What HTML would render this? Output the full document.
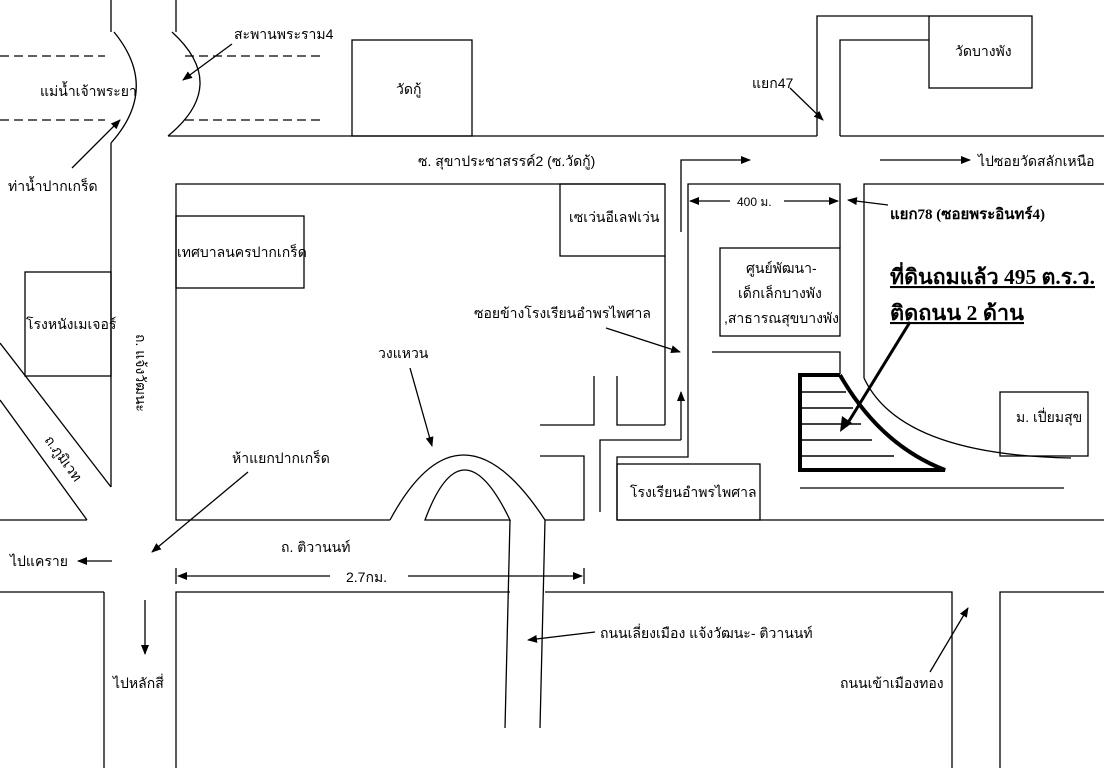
<!DOCTYPE html>
<html><head><meta charset="utf-8"><style>
html,body{margin:0;padding:0;background:#fff;}
svg{display:block;}
text{font-family:"Liberation Sans","DejaVu Sans","Noto Sans CJK SC",sans-serif;font-size:14px;fill:#000;}
.b{font-family:"Liberation Serif","DejaVu Serif",serif;font-weight:bold;}
</style></head><body>
<svg width="1104" height="768" viewBox="0 0 1104 768" xmlns="http://www.w3.org/2000/svg">
<defs><marker id="a" markerWidth="10" markerHeight="8" refX="9" refY="4" orient="auto" markerUnits="userSpaceOnUse"><path d="M0,0 L10,4 L0,8 z" fill="#000"/></marker></defs>
<g stroke="#000" stroke-width="1.3" fill="none">
<line x1="0" y1="56" x2="105" y2="56" stroke-dasharray="9,5"/>
<line x1="185" y1="56" x2="320" y2="56" stroke-dasharray="9,5"/>
<line x1="0" y1="120" x2="105" y2="120" stroke-dasharray="9,5"/>
<line x1="185" y1="120" x2="322" y2="120" stroke-dasharray="9,5"/>
<line x1="111" y1="0" x2="111" y2="32"/>
<line x1="176" y1="0" x2="176" y2="32"/>
<path d="M114,32 Q160,88 111,143"/>
<path d="M172,32 Q230,85 168,136"/>
<line x1="111" y1="143" x2="111" y2="487"/>
<line x1="0" y1="343" x2="111" y2="487"/>
<line x1="0" y1="400" x2="87" y2="520"/>
<line x1="0" y1="520" x2="87" y2="520"/>
<rect x="25" y="272" width="86" height="104"/>
<line x1="168" y1="136" x2="817" y2="136"/>
<rect x="352" y="40" width="120" height="96"/>
<polyline points="817,136 817,16 929,16"/>
<polyline points="840,136 840,40 929,40"/>
<line x1="840" y1="136" x2="1104" y2="136"/>
<rect x="929" y="16" width="103" height="72"/>
<polyline points="665,184 176,184 176,520 390,520"/>
<rect x="176" y="216" width="128" height="72"/>
<rect x="560" y="184" width="105" height="72"/>
<line x1="665" y1="256" x2="665" y2="425"/>
<polyline points="617,376 617,425 665,425"/>
<polyline points="540,425 594,425 594,376"/>
<polyline points="540,456 584,456 584,520 545,520"/>
<path d="M390,520 Q460,390 545,520"/>
<path d="M425,520 Q462,420 510,520 Z"/>
<line x1="510" y1="520" x2="505" y2="728"/>
<line x1="545" y1="520" x2="540" y2="728"/>
<polyline points="600,512 600,440 681,440"/>
<line x1="681" y1="440" x2="681" y2="392" marker-end="url(#a)"/>
<polyline points="681,232 681,160 750,160" marker-end="url(#a)"/>
<polyline points="617,520 617,457 688,457 688,184 840,184 840,248"/>
<rect x="720" y="248" width="120" height="88"/>
<polyline points="712,352 840,352 840,374"/>
<rect x="617" y="464" width="143" height="56"/>
<line x1="617" y1="520" x2="1104" y2="520"/>
<polyline points="864,378 864,184 1104,184"/>
<line x1="730" y1="201" x2="690" y2="201" marker-end="url(#a)"/>
<line x1="784" y1="201" x2="838" y2="201" marker-end="url(#a)"/>
<line x1="888" y1="205" x2="848" y2="200" marker-end="url(#a)"/>
<line x1="880" y1="160" x2="970" y2="160" marker-end="url(#a)"/>
<path d="M864,378 Q900,455 1071,458"/>
<line x1="800" y1="488" x2="1064" y2="488"/>
<rect x="1000" y="392" width="88" height="64"/>
<path d="M840,375 L800,375 L800,470 L945,470 Q880,445 840,375" stroke-width="4"/>
<g stroke-width="1.5"><line x1="800" y1="392" x2="846" y2="392"/><line x1="800" y1="408" x2="853" y2="408"/><line x1="800" y1="424" x2="861" y2="424"/><line x1="800" y1="440" x2="872" y2="440"/><line x1="800" y1="456" x2="894" y2="456"/></g>
<line x1="910" y1="322" x2="846" y2="426" stroke-width="3"/>
<path d="M840,432 L842,416 L852,423 z" fill="#000" stroke="none"/>
<line x1="0" y1="592" x2="104" y2="592"/>
<line x1="104" y1="592" x2="104" y2="768"/>
<polyline points="176,768 176,592 510,592"/>
<polyline points="545,592 952,592 952,768"/>
<polyline points="1000,768 1000,592 1104,592"/>
<line x1="176" y1="568" x2="176" y2="584"/><line x1="584" y1="568" x2="584" y2="584"/>
<line x1="330" y1="576" x2="178" y2="576" marker-end="url(#a)"/>
<line x1="408" y1="576" x2="582" y2="576" marker-end="url(#a)"/>
<line x1="112" y1="561" x2="78" y2="561" marker-end="url(#a)"/>
<line x1="145" y1="600" x2="145" y2="654" marker-end="url(#a)"/>
<line x1="248" y1="472" x2="152" y2="552" marker-end="url(#a)"/>
<line x1="595" y1="632" x2="528" y2="640" marker-end="url(#a)"/>
<line x1="930" y1="672" x2="968" y2="608" marker-end="url(#a)"/>
<line x1="410" y1="368" x2="432" y2="446" marker-end="url(#a)"/>
<line x1="606" y1="328" x2="680" y2="352" marker-end="url(#a)"/>
<line x1="72" y1="168" x2="120" y2="120" marker-end="url(#a)"/>
<line x1="232" y1="44" x2="183" y2="80" marker-end="url(#a)"/>
<line x1="790" y1="88" x2="823" y2="120" marker-end="url(#a)"/>
</g>
<text x="234" y="39">สะพานพระราม4</text>
<text x="40" y="96">แม่น้ำเจ้าพระยา</text>
<text x="396" y="94">วัดกู้</text>
<text x="955" y="56">วัดบางพัง</text>
<text x="752" y="88">แยก47</text>
<text x="8" y="191">ท่าน้ำปากเกร็ด</text>
<text x="418" y="166">ซ. สุขาประชาสรรค์2 (ซ.วัดกู้)</text>
<text x="978" y="166">ไปซอยวัดสลักเหนือ</text>
<text x="569" y="222">เซเว่นอีเลฟเว่น</text>
<text x="737" y="206" style="font-size:12px">400 ม.</text>
<text class="b" x="890" y="219" style="font-size:15px">แยก78 (ซอยพระอินทร์4)</text>
<text class="b" x="890" y="284" style="font-size:21px" textLength="205" lengthAdjust="spacingAndGlyphs" text-decoration="underline">ที่ดินถมแล้ว  495 ต.ร.ว.</text>
<text class="b" x="890" y="320" style="font-size:21px" textLength="134" lengthAdjust="spacingAndGlyphs" text-decoration="underline">ติดถนน  2  ด้าน</text>
<text x="177" y="257">เทศบาลนครปากเกร็ด</text>
<text x="746" y="273">ศูนย์พัฒนา-</text>
<text x="738" y="298">เด็กเล็กบางพัง</text>
<text x="724" y="323">,สาธารณสุขบางพัง</text>
<text x="26" y="329">โรงหนังเมเจอร์</text>
<text x="474" y="318">ซอยข้างโรงเรียนอำพรไพศาล</text>
<text x="378" y="358">วงแหวน</text>
<text x="1016" y="422">ม. เปี่ยมสุข</text>
<text x="630" y="497">โรงเรียนอำพรไพศาล</text>
<text x="232" y="463">ห้าแยกปากเกร็ด</text>
<text x="281" y="552">ถ. ติวานนท์</text>
<text x="346" y="582">2.7กม.</text>
<text x="10" y="566">ไปแคราย</text>
<text x="113" y="688">ไปหลักสี่</text>
<text x="600" y="638">ถนนเลี่ยงเมือง แจ้งวัฒนะ- ติวานนท์</text>
<text x="840" y="688">ถนนเข้าเมืองทอง</text>
<text transform="translate(136,334) rotate(90)">ถ. แจ้งวัฒนะ</text>
<text transform="translate(44,440) rotate(54)">ถ.ภูมิเวท</text>
</svg>
</body></html>
